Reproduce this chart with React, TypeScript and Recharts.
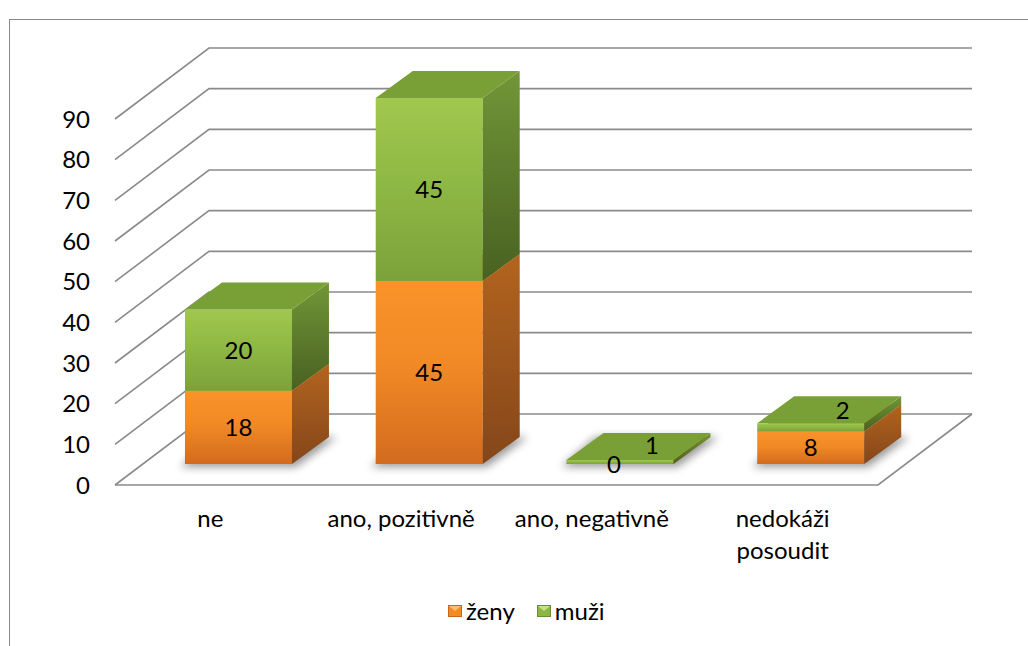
import React from "react";
import {
  BarChart,
  Bar,
  XAxis,
  YAxis,
  CartesianGrid,
  ReferenceLine,
  LabelList,
} from "recharts";

const categories = ["ne", "ano, pozitivně", "ano, negativně", "nedokáži posoudit"];
const zeny = [18, 45, 0, 8];
const muzi = [20, 45, 1, 2];
const yTicks = [0, 10, 20, 30, 40, 50, 60, 70, 80, 90];

const data = categories.map((c, i) => ({ name: c, zeny: zeny[i], muzi: muzi[i] }));

// oblique depth of the floor / back wall
const DX = 94;
const DY = -71;
// bars sit 30% into the depth and are 39% deep
const FX = 28;
const FY = -21;
const BX = 37;
const BY = -27;

const FONT = "Lato, 'Open Sans', sans-serif";
const FS = 24;
const GRID = "#8a8a8a";

const colors: Record<string, { front: string; side: string; top: string }> = {
  zeny: { front: "url(#oFront)", side: "url(#oSide)", top: "#E27F23" },
  muzi: { front: "url(#gFront)", side: "url(#gSide)", top: "#79A036" },
};

function Box3D(props: any) {
  const { x, y, width, height, kind } = props;
  if (x == null || y == null) return null;
  const h = Math.max(0, height || 0);
  const fx = x + FX;
  const fy = y + FY;
  const w = width;
  const c = colors[kind];
  const shadow =
    kind === "zeny" ? (
      <polygon
        points={`${fx - 5},${fy + h + 3} ${fx + w + 4},${fy + h + 3} ${fx + w + BX + 8},${fy + h + BY} ${fx + BX - 8},${fy + h + BY}`}
        fill="#000"
        opacity={0.4}
        filter="url(#blurShadow)"
      />
    ) : null;
  return (
    <g>
      {shadow}
      {h > 0 && <rect x={fx} y={fy} width={w} height={h} fill={c.front} />}
      {h > 0 && (
        <polygon
          points={`${fx + w},${fy} ${fx + w + BX},${fy + BY} ${fx + w + BX},${fy + h + BY} ${fx + w},${fy + h}`}
          fill={c.side}
        />
      )}
      <polygon
        points={`${fx},${fy} ${fx + BX},${fy + BY} ${fx + w + BX},${fy + BY} ${fx + w},${fy}`}
        fill={c.top}
      />
    </g>
  );
}

function BarLabel(props: any) {
  const { x, y, width, height, value } = props;
  if (x == null) return null;
  let cx = x + width / 2 + FX;
  let cy = y + height / 2 + FY;
  if (value === 0) {
    cx -= 6;
  } else if (Math.abs(height) < 20) {
    cx += 32;
    cy -= 17;
  }
  return (
    <text x={cx} y={cy} dy="0.36em" textAnchor="middle" fontFamily={FONT} fontSize={FS} fill="#000">
      {value}
    </text>
  );
}

function GridLine(p: any) {
  const { x1, x2, y1 } = p;
  return (
    <polyline
      key={p.key ?? `gl-${p.index}`}
      points={`${x1},${y1} ${x1 + DX},${y1 + DY} ${x2 + DX},${y1 + DY}`}
      fill="none"
      stroke={GRID}
      strokeWidth={1.6}
    />
  );
}

function Floor(p: any) {
  const { x1, x2, y1 } = p;
  return (
    <polyline
      points={`${x1},${y1} ${x2},${y1} ${x2 + DX},${y1 + DY}`}
      fill="none"
      stroke={GRID}
      strokeWidth={1.6}
    />
  );
}

function CategoryTick(props: any) {
  const { x, y, payload } = props;
  const label: string = payload.value;
  const lines = label.length > 15 ? label.split(" ") : [label];
  return (
    <text x={x} y={y + 42} textAnchor="middle" fontFamily={FONT} fontSize={FS} fill="#000">
      {lines.map((l, i) => (
        <tspan key={i} x={x} dy={i === 0 ? 0 : 32}>
          {l}
        </tspan>
      ))}
    </text>
  );
}

function ValueTick(props: any) {
  const { x, y, payload } = props;
  return (
    <text x={x} y={y} dy="0.36em" textAnchor="end" fontFamily={FONT} fontSize={FS} fill="#000">
      {payload.value}
    </text>
  );
}

function LegendIcon({ base, light, dark }: { base: string; light: string; dark: string }) {
  return (
    <svg width={14} height={12} style={{ display: "block" }}>
      <rect x={0} y={0} width={14} height={12} fill={dark} />
      <rect x={1} y={1} width={12} height={10} fill={base} />
      <polygon points="1,1 13,1 7,6" fill={light} />
    </svg>
  );
}

export default function App() {
  return (
    <div style={{ position: "fixed", left: 0, top: 0, width: 1028, height: 646, overflow: "hidden", background: "#fff" }}>
      <div
        style={{
          position: "absolute",
          left: 9,
          top: 19,
          width: 1100,
          height: 700,
          border: "1.5px solid #8a8a8a",
        }}
      />
      <div style={{ position: "absolute", left: 0, top: 0 }}>
        <BarChart
          width={1028}
          height={646}
          data={data}
          margin={{ top: 119, right: 150, left: 0, bottom: 0 }}
          barCategoryGap="22%"
        >
          <defs>
            <linearGradient id="oFront" x1="0" y1="0" x2="0" y2="1">
              <stop offset="0%" stopColor="#FB922A" />
              <stop offset="45%" stopColor="#F18A25" />
              <stop offset="100%" stopColor="#D36B1F" />
            </linearGradient>
            <linearGradient id="oSide" x1="0" y1="0" x2="0" y2="1">
              <stop offset="0%" stopColor="#B3641F" />
              <stop offset="100%" stopColor="#84461A" />
            </linearGradient>
            <linearGradient id="gFront" x1="0" y1="0" x2="0" y2="1">
              <stop offset="0%" stopColor="#A0C84E" />
              <stop offset="50%" stopColor="#8DB744" />
              <stop offset="100%" stopColor="#7BA23A" />
            </linearGradient>
            <linearGradient id="gSide" x1="0" y1="0" x2="0" y2="1">
              <stop offset="0%" stopColor="#729638" />
              <stop offset="100%" stopColor="#486121" />
            </linearGradient>
            <filter id="blurShadow" x="-30%" y="-100%" width="160%" height="300%">
              <feGaussianBlur stdDeviation="4" />
            </filter>
          </defs>
          <CartesianGrid vertical={false} horizontal={GridLine as any} />
          <XAxis
            dataKey="name"
            axisLine={false}
            tickLine={false}
            tickSize={0}
            tickMargin={0}
            height={161}
            interval={0}
            tick={<CategoryTick />}
          />
          <YAxis
            domain={[0, 90]}
            ticks={yTicks}
            axisLine={false}
            tickLine={false}
            tickSize={0}
            tickMargin={25}
            width={115}
            tick={<ValueTick />}
          />
          <ReferenceLine y={0} shape={Floor as any} />
          <Bar
            dataKey="zeny"
            stackId="a"
            isAnimationActive={false}
            shape={(p: any) => <Box3D {...p} kind="zeny" />}
          >
            <LabelList dataKey="zeny" content={<BarLabel />} />
          </Bar>
          <Bar
            dataKey="muzi"
            stackId="a"
            isAnimationActive={false}
            shape={(p: any) => <Box3D {...p} kind="muzi" />}
          >
            <LabelList dataKey="muzi" content={<BarLabel />} />
          </Bar>
        </BarChart>
      </div>
      <div
        style={{
          position: "absolute",
          left: 448,
          top: 596,
          display: "flex",
          alignItems: "center",
          fontFamily: FONT,
          fontSize: FS,
          color: "#000",
          lineHeight: "30px",
        }}
      >
        <LegendIcon base="#F28B26" light="#FDBF6A" dark="#C9661E" />
        <span style={{ marginLeft: 4 }}>ženy</span>
        <span style={{ width: 22 }} />
        <LegendIcon base="#8CB744" light="#C6E38A" dark="#6A8C30" />
        <span style={{ marginLeft: 4 }}>muži</span>
      </div>
    </div>
  );
}
